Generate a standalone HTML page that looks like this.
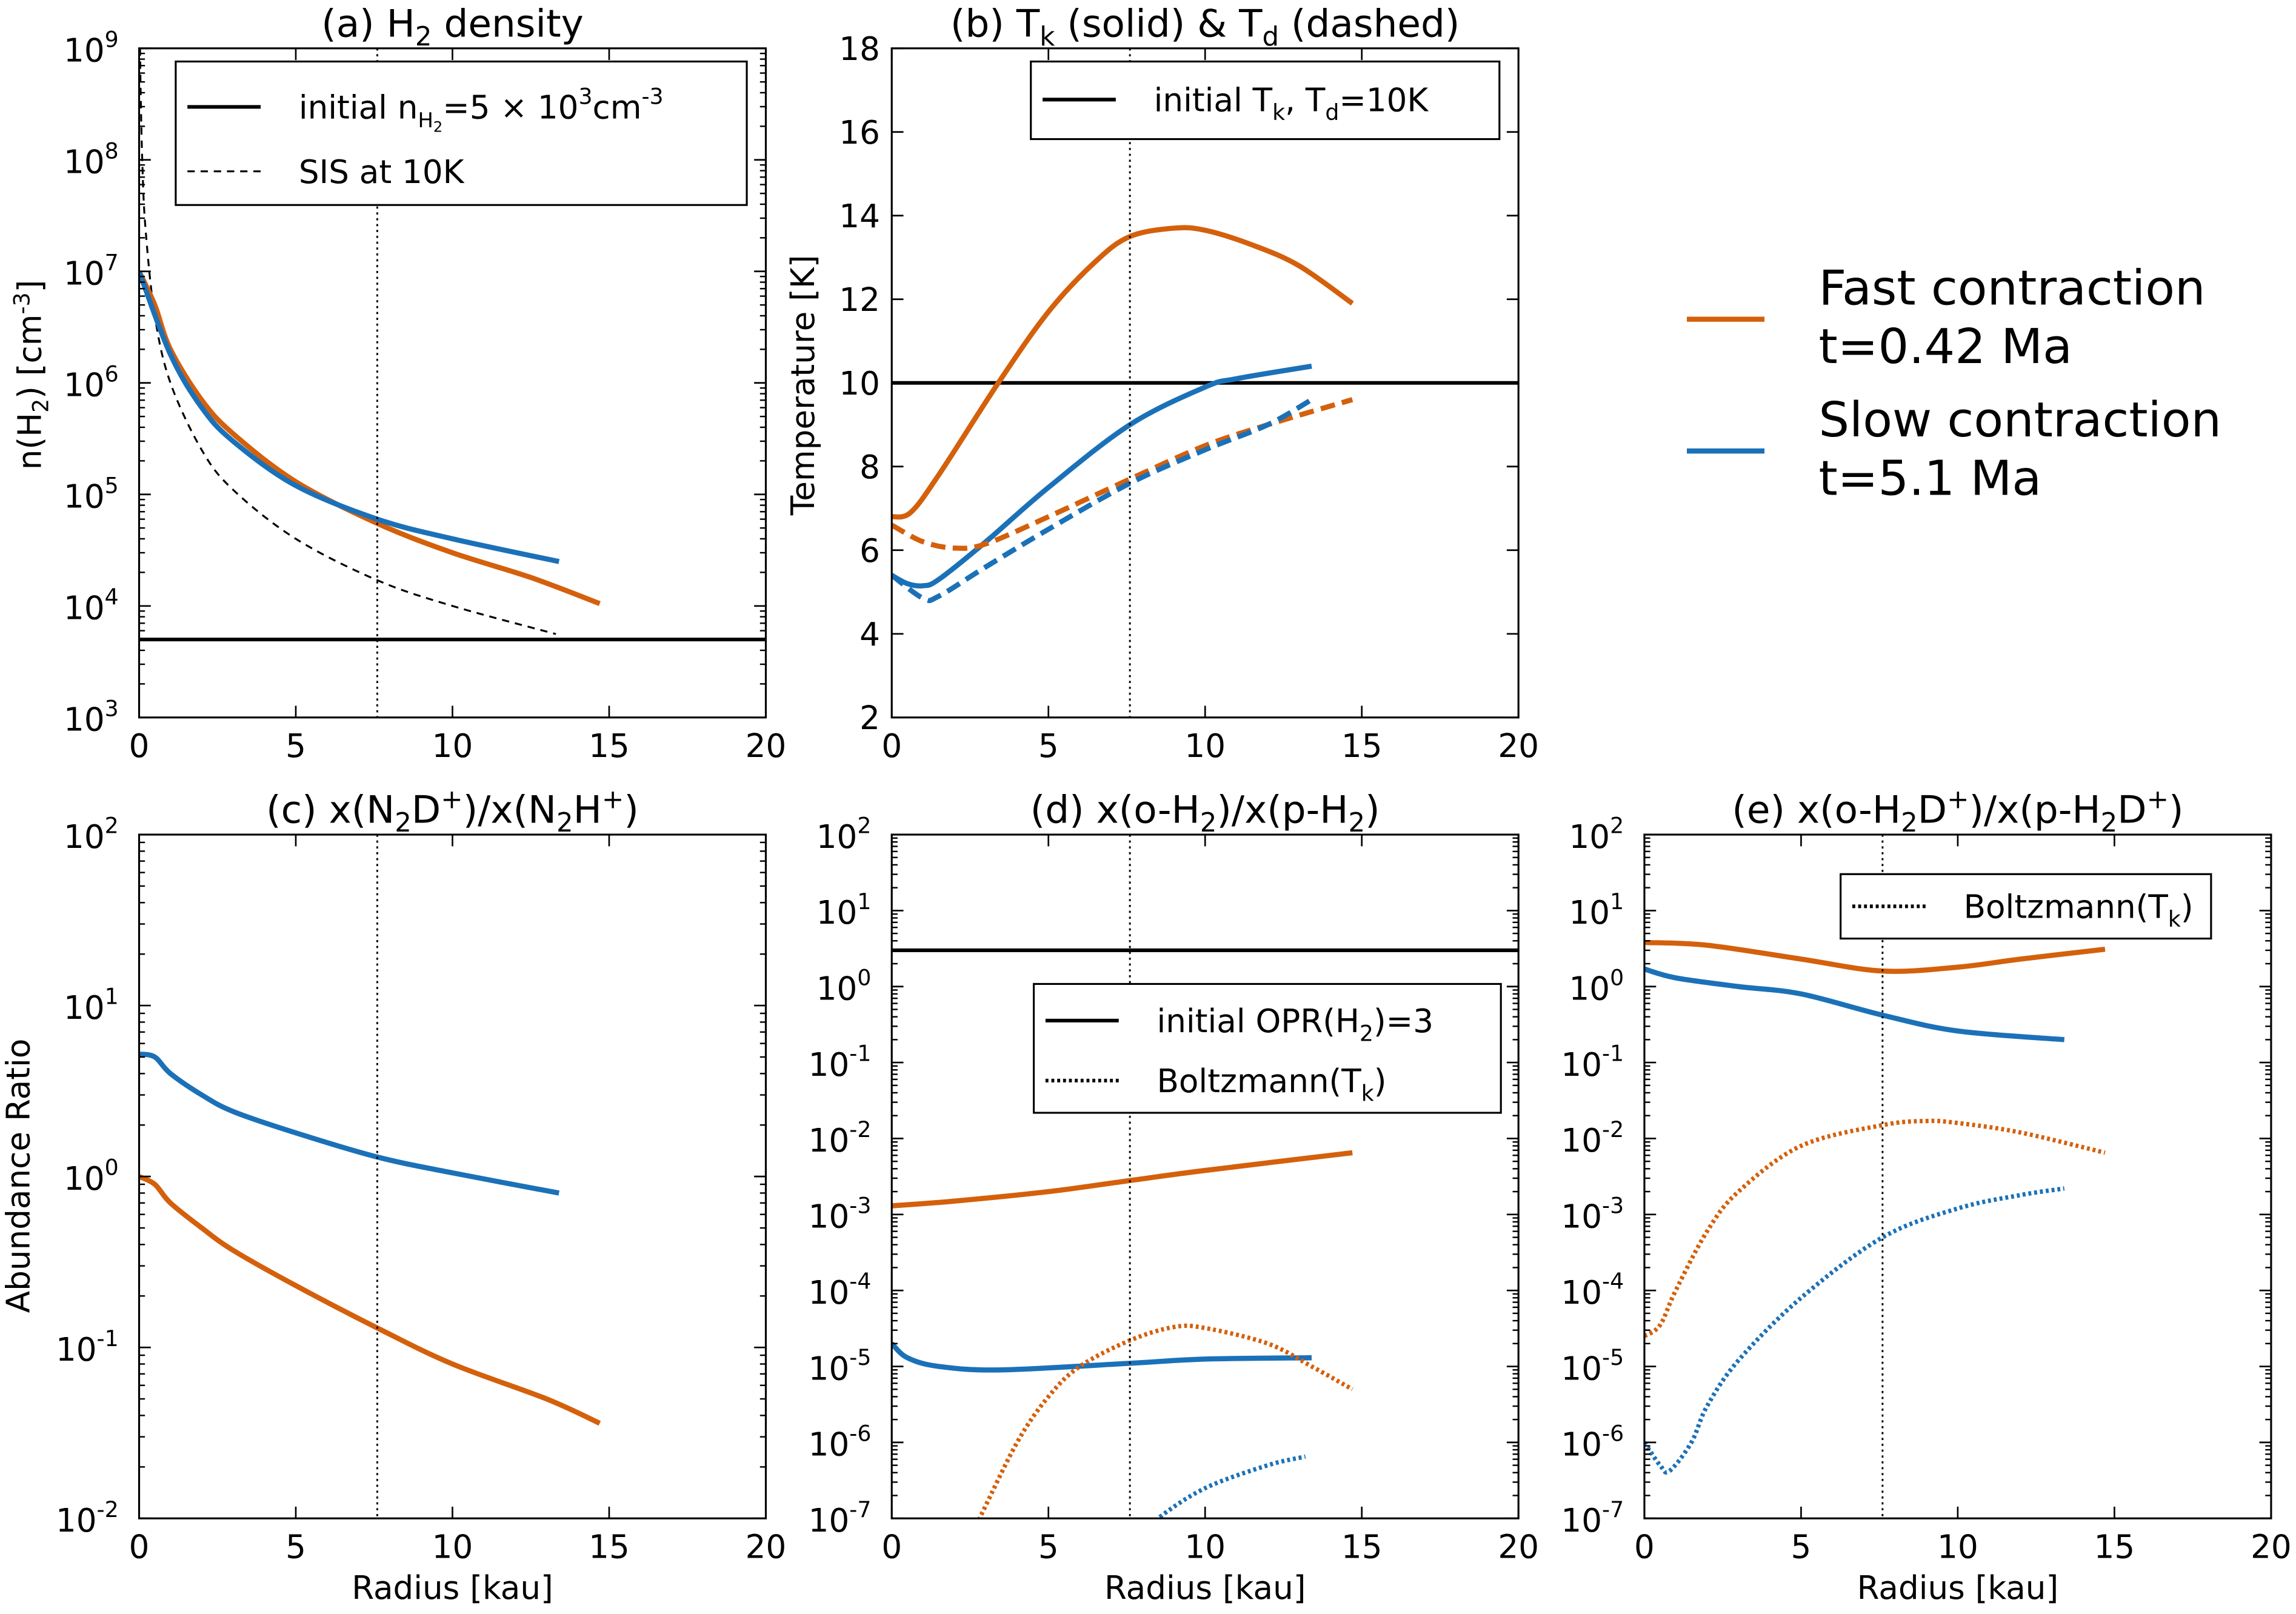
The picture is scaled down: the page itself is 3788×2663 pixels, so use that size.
<!DOCTYPE html>
<html><head><meta charset="utf-8"><style>
html,body{margin:0;padding:0;background:#fff}
svg{display:block;font-family:"DejaVu Sans","Liberation Sans",sans-serif}
</style></head><body>
<svg id="fig" xmlns="http://www.w3.org/2000/svg" width="3788" height="2663" viewBox="0 0 1568 1102.3">
<rect width="1568" height="1103" fill="#fff"/>
</svg>
<script>
// ---- data ----
const aFastR=[0,0.5,1,2,3,5,7.6,10,12.5,14.7];
const aFastN=[1e7,5e6,2e6,7e5,3.5e5,1.3e5,5.5e4,3e4,1.8e4,1.05e4];
const aSlowR=[0,1,2,3,5,7.6,10,13.4];
const aSlowN=[1e7,1.8e6,6e5,3e5,1.2e5,6e4,4e4,2.5e4];
const sisR=[0.03,0.05,0.1,0.2,0.5,1,2,3,5,7.6,10,13.3];
const sisN=[1e9,4e8,1e8,2.5e7,4e6,1e6,2.5e5,1.1e5,4e4,1.7e4,1e4,5.6e3];
const aInit=5e3;
const bTkFastR=[0,0.6,1.5,3.4,5,6.5,7.6,9,10,11.5,13,14.7];
const bTkFast=[6.8,6.9,7.8,10,11.7,12.9,13.5,13.7,13.65,13.3,12.8,11.9];
const bTkSlowR=[0,0.5,1,1.5,3,5,7.6,10,11,13.4];
const bTkSlow=[5.4,5.2,5.15,5.3,6.2,7.5,9,9.9,10.1,10.4];
const bTdFastR=[0,1,2,3,5,7.6,10,12,14.7];
const bTdFast=[6.6,6.2,6.05,6.15,6.8,7.7,8.5,9,9.6];
const bTdSlowR=[0,1,1.5,3,5,7.6,10,12,13.4];
const bTdSlow=[5.4,4.85,4.9,5.6,6.5,7.6,8.4,9,9.6];
const bInit=10;
const cSlowR=[0,0.5,1,2,3,5,7.6,10,13.4];
const cSlow=[5.2,5,4,3,2.4,1.8,1.3,1.05,0.8];
const cFastR=[0,0.5,1,2,3,5,7.6,10,13,14.7];
const cFast=[1,0.9,0.7,0.5,0.37,0.23,0.13,0.08,0.05,0.036];
const dFastR=[0,2,5,7.6,10,14.7];
const dFast=[1.3e-3,1.5e-3,2e-3,2.8e-3,3.8e-3,6.5e-3];
const dSlowR=[0,0.5,1.5,3.5,7.6,10,13.4];
const dSlow=[2e-5,1.3e-5,1e-5,9e-6,1.1e-5,1.25e-5,1.3e-5];
const dFastBR=[2.5,2.8,4,5,6,7.6,9,10,12,13.4,14.7];
const dFastB=[6e-8,1e-7,1e-6,4e-6,1e-5,2.2e-5,3.3e-5,3.2e-5,2e-5,1e-5,5e-6];
const dSlowBR=[8.1,8.5,10,12,13.2];
const dSlowB=[6e-8,1e-7,2.5e-7,5e-7,6.5e-7];
const dInit=3;
const eFastR=[0,2,5,7.6,10,12,14.7];
const eFast=[3.8,3.5,2.3,1.6,1.8,2.3,3.1];
const eSlowR=[0,1,3,5,7.6,10,13.4];
const eSlow=[1.7,1.3,1,0.8,0.42,0.26,0.2];
const eFastBR=[0,0.5,1,2,3,5,7.6,9,10,12,14.7];
const eFastB=[2.5e-5,3.5e-5,1e-4,6e-4,2e-3,8e-3,1.5e-2,1.7e-2,1.6e-2,1.2e-2,6.5e-3];
const eSlowBR=[0,0.5,0.8,1.5,2,3,5,7.6,10,12,13.4];
const eSlowB=[1e-6,5e-7,4.2e-7,1e-6,3e-6,1.2e-5,8e-5,5e-4,1.2e-3,1.8e-3,2.2e-3];
const xTicks=[0,5,10,15,20];
const bYTicks=[2,4,6,8,10,12,14,16,18];

const OR="#d4600c", BL="#1b71b8";
const NS="http://www.w3.org/2000/svg";
const svg=document.getElementById('fig');
function el(t,a,p){const e=document.createElementNS(NS,t);for(const k in a)e.setAttribute(k,a[k]);(p||svg).appendChild(e);return e;}

function panel(name,x0,x1,y0,y1,ymin,ymax,log){
  const g=el('g',{});
  
  
  const X=v=>x0+(v-0)/20*(x1-x0);
  const Y=v=>{const t=log?(Math.log10(v)-ymin)/(ymax-ymin):(v-ymin)/(ymax-ymin);return y1-t*(y1-y0);};
  const clipId='c'+name;
  const cp=el('clipPath',{id:clipId},g);el('rect',{x:x0,y:y0,width:x1-x0,height:y1-y0},cp);
  const plot=el('g',{'clip-path':'url(#'+clipId+')'},g);
  return {g,X,Y,plot,x0,x1,y0,y1,ymin,ymax,log};
}
function path(P,rs,vs,color,w,dash,name){
  const pts=rs.map((r,i)=>[P.X(r),P.Y(vs[i])]);
  let d='M'+pts[0][0]+','+pts[0][1];
  for(let i=0;i<pts.length-1;i++){
    const p0=pts[Math.max(0,i-1)],p1=pts[i],p2=pts[i+1],p3=pts[Math.min(pts.length-1,i+2)];
    const c1=[p1[0]+(p2[0]-p0[0])/6,p1[1]+(p2[1]-p0[1])/6];
    const c2=[p2[0]-(p3[0]-p1[0])/6,p2[1]-(p3[1]-p1[1])/6];
    d+=` C${c1[0]},${c1[1]} ${c2[0]},${c2[1]} ${p2[0]},${p2[1]}`;
  }
  const e=el('path',{d,fill:'none',stroke:color,'stroke-width':w,'stroke-linejoin':'round'},P.plot);
  if(dash)e.setAttribute('stroke-dasharray',dash);
  
  
}
function hline(P,v,name){
  const e=el('line',{x1:P.x0,x2:P.x1,y1:P.Y(v),y2:P.Y(v),stroke:'#000','stroke-width':2.5},P.plot);
  
  
}
function vdot(P){
  const e=el('line',{x1:P.X(7.6),x2:P.X(7.6),y1:P.y0,y2:P.y1,stroke:'#000','stroke-width':1.2,'stroke-dasharray':'1.5,2.5'},P.plot);
  
  
}
function axes(P,title,titleParts){
  const g=P.g;
  el('rect',{x:P.x0,y:P.y0,width:P.x1-P.x0,height:P.y1-P.y0,fill:'none',stroke:'#000','stroke-width':1.3},g);
  xTicks.forEach(t=>{
    const x=P.X(t);
    el('line',{x1:x,x2:x,y1:P.y1,y2:P.y1-8,stroke:'#000','stroke-width':1.1},g);
    el('line',{x1:x,x2:x,y1:P.y0,y2:P.y0+8,stroke:'#000','stroke-width':1.1},g);
    const tx=el('text',{x:x,y:P.y1+27,'font-size':22,'text-anchor':'middle'},g);tx.textContent=t;
  });
  if(P.log){
    for(let e=P.ymin;e<=P.ymax;e++){
      const y=P.Y(Math.pow(10,e));
      el('line',{x1:P.x0,x2:P.x0+8,y1:y,y2:y,stroke:'#000','stroke-width':1.1},g);
      el('line',{x1:P.x1,x2:P.x1-8,y1:y,y2:y,stroke:'#000','stroke-width':1.1},g);
      if(e<P.ymax)for(let m=2;m<10;m++){const ym=P.Y(m*Math.pow(10,e));
        el('line',{x1:P.x0,x2:P.x0+4,y1:ym,y2:ym,stroke:'#000','stroke-width':1},g);
        el('line',{x1:P.x1,x2:P.x1-4,y1:ym,y2:ym,stroke:'#000','stroke-width':1},g);}
      const tx=el('text',{x:P.x0-14,y:y+9,'font-size':22,'text-anchor':'end'},g);
      tx.textContent='10';
      const s=el('tspan',{'font-size':15,dy:-10},tx);s.textContent=e;
    }
  } else {
    bYTicks.forEach(t=>{const y=P.Y(t);
      el('line',{x1:P.x0,x2:P.x0+8,y1:y,y2:y,stroke:'#000','stroke-width':1.1},g);
      el('line',{x1:P.x1,x2:P.x1-8,y1:y,y2:y,stroke:'#000','stroke-width':1.1},g);
      const tx=el('text',{x:P.x0-8,y:y+8,'font-size':22,'text-anchor':'end'},g);tx.textContent=t;});
  }
  const tt=el('text',{x:(P.x0+P.x1)/2,y:P.y0-8,'font-size':26,'text-anchor':'middle'},g);
  
  
  titleParts.forEach(p=>{const s=el('tspan',{},tt);s.textContent=p[0];
    if(p[1]==='sub'){s.setAttribute('font-size',18);s.setAttribute('dy',6);}
    else if(p[1]==='sup'){s.setAttribute('font-size',18);s.setAttribute('dy',-10);}
    else if(p[1]==='back'){s.setAttribute('dy',p[2]);}
  });
}
function ylabel(x,y,parts,name){
  const t=el('text',{transform:`translate(${x},${y}) rotate(-90)`,'font-size':22,'text-anchor':'middle'});
  
  
  parts.forEach(p=>{const s=el('tspan',{},t);s.textContent=p[0];if(p[1])s.setAttribute('font-size',15);if(p[2])s.setAttribute('dy',p[2]);});
}
function xlabel(P){
  const t=el('text',{x:(P.x0+P.x1)/2,y:1092,'font-size':22,'text-anchor':'middle'});
  t.textContent='Radius [kau]';
  
  
}
function legendBox(x,y,w,h,name){
  const r=el('rect',{x,y,width:w,height:h,fill:'#fff',stroke:'#000','stroke-width':1.3});
  
  
}

// (a)
const A=panel('panel-a-h2-density',95,523,33,490,3,9,true);
hline(A,aInit,'initial-density-line');
path(A,sisR,sisN,'#000',1.3,'5,4','sis-curve');
path(A,aFastR,aFastN,OR,3.5,null,'fast-contraction-density');
path(A,aSlowR,aSlowN,BL,3.5,null,'slow-contraction-density');
vdot(A);
axes(A,'',[['(a) H'],['2','sub'],[' density','back',-6]]);
ylabel(28,256,[['n(H'],['2',1,5],[') [cm',0,-5],['-3',1,-8],[']',0,8]],'y-axis-title-density');
legendBox(120,42,390,98,'legend-a');
el('line',{x1:128,x2:178,y1:73,y2:73,stroke:'#000','stroke-width':2.5});
{const t=el('text',{x:204,y:81,'font-size':22});t.innerHTML='initial n<tspan font-size="14" dy="6">H</tspan><tspan font-size="10" dy="3">2</tspan><tspan dy="-9">=5 × 10</tspan><tspan font-size="15" dy="-10">3</tspan><tspan dy="10">cm</tspan><tspan font-size="15" dy="-10">-3</tspan>';}
el('line',{x1:128,x2:178,y1:117,y2:117,stroke:'#000','stroke-width':1.3,'stroke-dasharray':'5,4'});
{const t=el('text',{x:204,y:125,'font-size':22});t.textContent='SIS at 10K';}

// (b)
const B=panel('panel-b-temperature',609,1037,33,490,2,18,false);
hline(B,bInit,'initial-temperature-line');
path(B,bTkFastR,bTkFast,OR,3.5,null,'fast-tk');
path(B,bTkSlowR,bTkSlow,BL,3.5,null,'slow-tk');
path(B,bTdFastR,bTdFast,OR,3.5,'10,5','fast-td');
path(B,bTdSlowR,bTdSlow,BL,3.5,'10,5','slow-td');
vdot(B);
axes(B,'',[['(b) T'],['k','sub'],[' (solid) & T','back',-6],['d','sub'],[' (dashed)','back',-6]]);
ylabel(556,263,[['Temperature [K]']],'y-axis-title-temperature');
legendBox(704,42,320,53,'legend-b');
el('line',{x1:712,x2:762,y1:68,y2:68,stroke:'#000','stroke-width':2.5});
{const t=el('text',{x:788,y:76,'font-size':22});t.innerHTML='initial T<tspan font-size="15" dy="6">k</tspan><tspan dy="-6">, T</tspan><tspan font-size="15" dy="6">d</tspan><tspan dy="-6">=10K</tspan>';}

// (c)
const C=panel('panel-c-n2d-ratio',95,523,570,1037,-2,2,true);
path(C,cSlowR,cSlow,BL,3.5,null,'slow-n2d-ratio');
path(C,cFastR,cFast,OR,3.5,null,'fast-n2d-ratio');
vdot(C);
axes(C,'',[['(c) x(N'],['2','sub'],['D','back',-6],['+','sup'],[')/x(N','back',10],['2','sub'],['H','back',-6],['+','sup'],[')','back',10]]);
ylabel(20,803,[['Abundance Ratio']],'y-axis-title-abundance');
xlabel(C);

// (d)
const D=panel('panel-d-h2-opr',609,1037,570,1037,-7,2,true);
hline(D,dInit,'initial-opr-line');
path(D,dFastR,dFast,OR,3.5,null,'fast-h2-opr');
path(D,dSlowR,dSlow,BL,3.5,null,'slow-h2-opr');
path(D,dFastBR,dFastB,OR,3,'2,2','fast-h2-boltzmann');
path(D,dSlowBR,dSlowB,BL,3,'2,2','slow-h2-boltzmann');
vdot(D);
axes(D,'',[['(d) x(o-H'],['2','sub'],[')/x(p-H','back',-6],['2','sub'],[')','back',-6]]);
xlabel(D);
legendBox(706,672,319,88,'legend-d');
el('line',{x1:714,x2:764,y1:697,y2:697,stroke:'#000','stroke-width':2.5});
{const t=el('text',{x:790,y:705,'font-size':22});t.innerHTML='initial OPR(H<tspan font-size="15" dy="6">2</tspan><tspan dy="-6">)=3</tspan>';}
el('line',{x1:714,x2:764,y1:738,y2:738,stroke:'#000','stroke-width':2.5,'stroke-dasharray':'2,2'});
{const t=el('text',{x:790,y:746,'font-size':22});t.innerHTML='Boltzmann(T<tspan font-size="15" dy="6">k</tspan><tspan dy="-6">)</tspan>';}

// (e)
const E=panel('panel-e-h2d-opr',1123,1551,570,1037,-7,2,true);
path(E,eFastR,eFast,OR,3.5,null,'fast-h2d-opr');
path(E,eSlowR,eSlow,BL,3.5,null,'slow-h2d-opr');
path(E,eFastBR,eFastB,OR,3,'2,2','fast-h2d-boltzmann');
path(E,eSlowBR,eSlowB,BL,3,'2,2','slow-h2d-boltzmann');
vdot(E);
axes(E,'',[['(e) x(o-H'],['2','sub'],['D','back',-6],['+','sup'],[')/x(p-H','back',10],['2','sub'],['D','back',-6],['+','sup'],[')','back',10]]);
xlabel(E);
legendBox(1257,597,253,44,'legend-e');
el('line',{x1:1265,x2:1315,y1:619,y2:619,stroke:'#000','stroke-width':2.5,'stroke-dasharray':'2,2'});
{const t=el('text',{x:1341,y:627,'font-size':22});t.innerHTML='Boltzmann(T<tspan font-size="15" dy="6">k</tspan><tspan dy="-6">)</tspan>';}

// global legend
{const g=el('g',{});


el('line',{x1:1152,x2:1205,y1:218,y2:218,stroke:OR,'stroke-width':3.5},g);
el('line',{x1:1152,x2:1205,y1:308,y2:308,stroke:BL,'stroke-width':3.5},g);
[['Fast contraction',208],['t=0.42 Ma',248],['Slow contraction',298],['t=5.1 Ma',338]].forEach(a=>{
  const t=el('text',{x:1242,y:a[1],'font-size':33},g);t.textContent=a[0];});
}
</script>
</body></html>
